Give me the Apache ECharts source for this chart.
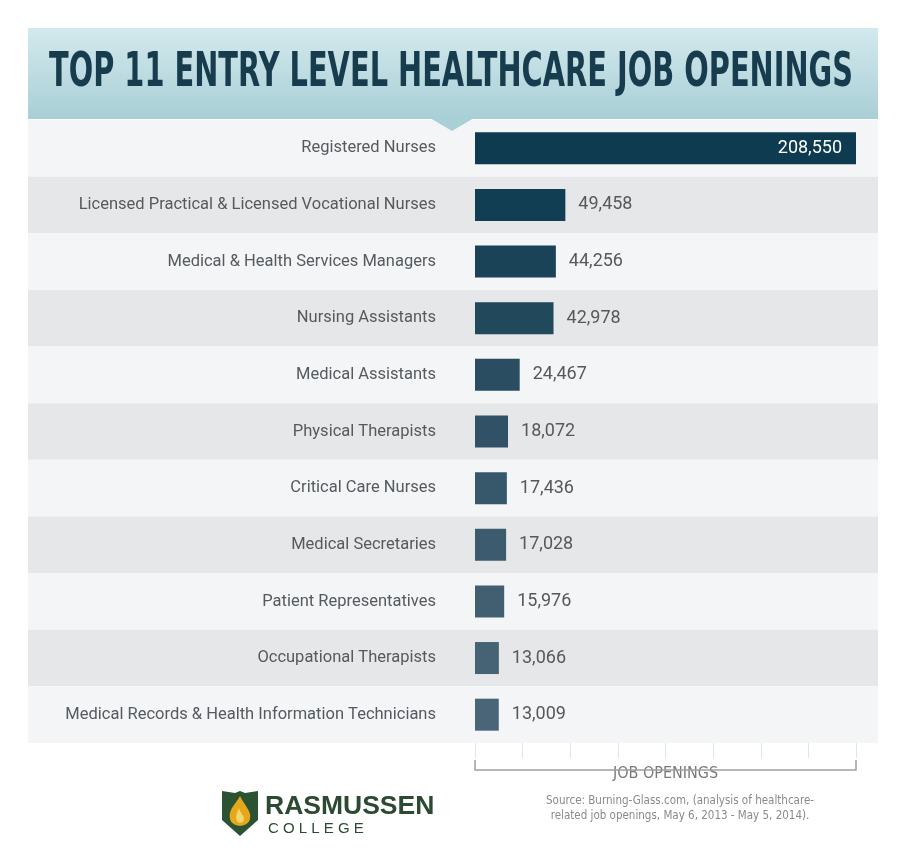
<!DOCTYPE html>
<html><head><meta charset="utf-8">
<script src="https://cdn.jsdelivr.net/npm/echarts@6/dist/echarts.min.js"></script>
<style>html,body{margin:0;padding:0;background:#fff}#c{width:907px;height:862px}</style>
</head><body><div id="c"></div>
<script>
const categories = ["Registered Nurses","Licensed Practical & Licensed Vocational Nurses","Medical & Health Services Managers","Nursing Assistants","Medical Assistants","Physical Therapists","Critical Care Nurses","Medical Secretaries","Patient Representatives","Occupational Therapists","Medical Records & Health Information Technicians"];
const values = [208550,49458,44256,42978,24467,18072,17436,17028,15976,13066,13009];
const barColors = ["#0e3b4f","#123e53","#1a4357","#22485c","#2a4d61","#315266","#37576a","#3c5b6e","#425f72","#466275","#4a6578"];
const titleText = "TOP 11 ENTRY LEVEL HEALTHCARE JOB OPENINGS";
const axisName = "JOB OPENINGS";
const sourceLines = ["Source: Burning-Glass.com, (analysis of healthcare-","related job openings, May 6, 2013 - May 5, 2014)."];
const axisMax = 208550;

const chart = echarts.init(document.getElementById('c'), null, {renderer:'canvas'});
const fmt = v => v.toLocaleString('en-US');
const condensed = '"DejaVu Sans Condensed","Liberation Sans Narrow",sans-serif';

const logoSvg = '<svg xmlns="http://www.w3.org/2000/svg" width="38" height="47" viewBox="0 0 38 47">' +
  '<path d="M1,1 L14,3 L19,1 L24,3 L37,1 L37,30 L19,46 L1,30 Z" fill="#2c5234"/>' +
  '<path d="M19,6 C15,14 7,19 9,29 C11,38 27,38 29,29 C31,21 23,15 19,6 Z" fill="#e5a81b"/>' +
  '<path d="M18,18 C16,23 14,26 16,31 C18,34 23,33 23,29 C23,25 19,23 18,18 Z" fill="#f6d56a"/>' +
  '</svg>';
const logoUrl = 'data:image/svg+xml;charset=utf-8,' + encodeURIComponent(logoSvg);

chart.setOption({
  animation:false,
  backgroundColor:'#ffffff',
  grid:[
    {left:28,right:29,top:120,bottom:119},
    {left:475,right:51,top:120,bottom:119}
  ],
  xAxis:[
    {gridIndex:0,type:'value',show:false,min:0,max:1},
    {gridIndex:1,type:'value',min:0,max:axisMax,interval:axisMax/8,
     axisLine:{show:false},axisLabel:{show:false},splitLine:{show:false},
     axisTick:{show:true,length:15,lineStyle:{color:'#e2e4e6',width:1}}},
    {gridIndex:1,type:'value',min:0,max:axisMax,interval:axisMax,position:'bottom',offset:27,
     axisLine:{show:true,lineStyle:{color:'#a0a0a0',width:1.5}},
     axisTick:{show:true,inside:true,length:10,lineStyle:{color:'#a0a0a0',width:1.5}},
     axisLabel:{show:false},splitLine:{show:false},
     name:axisName,nameLocation:'middle',nameGap:4,
     nameTextStyle:{fontFamily:condensed,fontSize:16,color:'#7a7a7a',verticalAlign:'middle',
       backgroundColor:'#ffffff',padding:[3,12,3,12]}}
  ],
  yAxis:[
    {gridIndex:0,type:'category',data:categories,inverse:true,
     axisLine:{show:false},axisTick:{show:false},axisLabel:{show:false},
     splitArea:{show:true,areaStyle:{color:['#f3f5f7','#e6e7e8']}}},
    {gridIndex:1,type:'category',data:categories,inverse:true,
     axisLine:{show:false},axisTick:{show:false},
     axisLabel:{margin:39,fontFamily:'Roboto, sans-serif',fontSize:16.5,color:'#555a5e'}}
  ],
  series:[{
    type:'bar',xAxisIndex:1,yAxisIndex:1,barWidth:32,
    data:values.map((v,i)=>({value:v,itemStyle:{color:barColors[i]},
      label: i===0 ? {position:'insideRight',distance:14,color:'#ffffff'} : {position:'right',distance:13,color:'#55595c'}})),
    label:{show:true,fontFamily:'Roboto, sans-serif',fontSize:18,formatter:p=>fmt(p.value)}
  }],
  graphic:[
    {type:'rect',shape:{x:28,y:28,width:850,height:91},z:50,
     style:{fill:new echarts.graphic.LinearGradient(0,0,0,1,[{offset:0,color:'#d3e9ed'},{offset:1,color:'#a8cfd6'}])}},
    {type:'polygon',shape:{points:[[430,118],[474,118],[452,131]]},z:50,style:{fill:'#a9d0d6'}},
    {type:'text',z:60,x:680,y:801,
     style:{text:sourceLines[0],font:'condensed 11.5px "DejaVu Sans", sans-serif',fill:'#8a8a8a',align:'center',verticalAlign:'middle'}},
    {type:'text',z:60,x:680,y:816,
     style:{text:sourceLines[1],font:'condensed 11.5px "DejaVu Sans", sans-serif',fill:'#8a8a8a',align:'center',verticalAlign:'middle'}},
    {type:'image',z:60,x:221,y:790,style:{image:logoUrl,width:38,height:47}},
    {type:'text',z:60,x:265,y:807,
     style:{text:'RASMUSSEN',fontFamily:'"Liberation Sans","Noto Sans",sans-serif',fontWeight:'bold',fontSize:26.5,fill:'#2b4a31',align:'left',verticalAlign:'middle'}},
    {type:'text',z:60,x:268,y:829,
     style:{text:'C O L L E G E',fontFamily:'"Liberation Sans","Noto Sans",sans-serif',fontSize:15,fill:'#2b4a31',align:'left',verticalAlign:'middle'}}
  ]
});

// Title: real text, horizontally compressed to imitate the condensed display face
const titleFont = 'bold 48px "DejaVu Sans", sans-serif';
const mctx = document.createElement('canvas').getContext('2d');
mctx.font = titleFont;
const titleScale = 804 / mctx.measureText(titleText).width;
const titleEl = new echarts.graphic.Text({
  x: 451, y: 74, scaleX: titleScale, scaleY: 1, z: 100,
  style: {text: titleText, font: titleFont, fill: '#163c4d', align: 'center', verticalAlign: 'middle'}
});
chart.getZr().add(titleEl);
</script></body></html>
